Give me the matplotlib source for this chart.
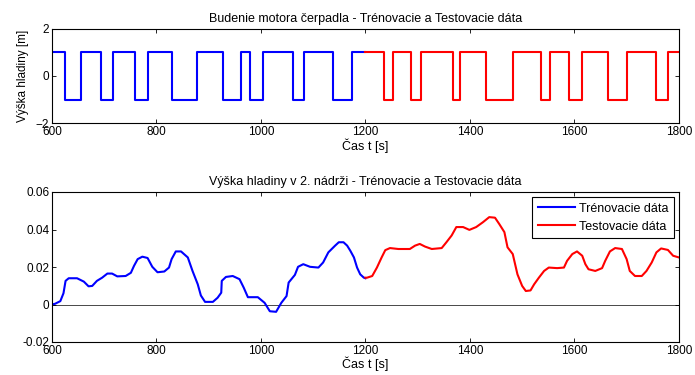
import numpy as np
import matplotlib
matplotlib.use("Agg")
import matplotlib.pyplot as plt

plt.rcParams['font.family'] = ['Liberation Sans', 'DejaVu Sans']
plt.rcParams['font.size'] = 9

# pump excitation (square wave), switch times and levels
u_train_t = [600, 625, 655, 694, 716, 759, 784, 830, 877, 927, 961, 979, 1004, 1062, 1083, 1137, 1175, 1200]
u_train_v = [1, -1, 1, -1, 1, -1, 1, -1, 1, -1, 1, -1, 1, -1, 1, -1, 1, 1]
u_test_t = [1200, 1235, 1252, 1287, 1307, 1368, 1381, 1431, 1483, 1537, 1554, 1589, 1614, 1665, 1700, 1756, 1779, 1800]
u_test_v = [1, -1, 1, -1, 1, -1, 1, -1, 1, -1, 1, -1, 1, -1, 1, -1, 1, 1]

# level in tank 2
h_train_t = [600, 606, 616, 622, 626, 632, 648, 661, 670, 677, 686, 696, 706, 715, 725, 741, 751, 757,
             764, 773, 783, 792, 802, 815, 824, 829, 837, 847, 860, 869, 879, 885, 893, 908, 917, 924,
             925, 933, 946, 959, 967, 975, 994, 1007, 1017, 1029, 1039, 1049, 1053, 1065, 1071, 1081,
             1094, 1110, 1119, 1129, 1142, 1149, 1158, 1165, 1171, 1178, 1184, 1190, 1197, 1200]
h_train_v = [0.0, 0.0004, 0.0018, 0.006, 0.0126, 0.014, 0.014, 0.0122, 0.0097, 0.0099, 0.0126, 0.0143,
             0.0165, 0.0165, 0.015, 0.0152, 0.0169, 0.0206, 0.0242, 0.0255, 0.0248, 0.0201, 0.0172,
             0.0176, 0.0197, 0.0242, 0.0283, 0.0283, 0.0251, 0.0179, 0.0108, 0.0048, 0.0014, 0.0014,
             0.0036, 0.0063, 0.0126, 0.0147, 0.0152, 0.0135, 0.009, 0.0039, 0.0039, 0.0009, -0.0036,
             -0.0039, 0.0009, 0.0045, 0.0117, 0.0158, 0.0201, 0.0215, 0.0201, 0.0197, 0.0224, 0.0278,
             0.0314, 0.0332, 0.0332, 0.0314, 0.0287, 0.0251, 0.0197, 0.0161, 0.0143, 0.014]
h_test_t = [1200, 1203, 1213, 1222, 1231, 1238, 1247, 1263, 1285, 1295, 1304, 1314, 1327, 1346, 1355,
            1365, 1374, 1387, 1399, 1412, 1425, 1437, 1448, 1456, 1466, 1472, 1482, 1491, 1500, 1507,
            1516, 1523, 1532, 1542, 1551, 1567, 1580, 1586, 1596, 1605, 1615, 1621, 1627, 1640, 1653,
            1659, 1668, 1678, 1691, 1700, 1706, 1716, 1729, 1738, 1748, 1757, 1766, 1779, 1789, 1800]
h_test_v = [0.0143, 0.0143, 0.0152, 0.0197, 0.0251, 0.029, 0.0301, 0.0296, 0.0296, 0.0314, 0.0323,
            0.0309, 0.0296, 0.0301, 0.0332, 0.0368, 0.0413, 0.0413, 0.0398, 0.0413, 0.0439, 0.0466,
            0.0463, 0.043, 0.0386, 0.0305, 0.0269, 0.0161, 0.0099, 0.0072, 0.0075, 0.0108, 0.0143,
            0.0179, 0.0197, 0.0194, 0.0197, 0.0233, 0.0269, 0.0283, 0.026, 0.0215, 0.0188, 0.0179,
            0.0194, 0.0233, 0.0283, 0.0301, 0.0296, 0.0242, 0.0179, 0.0152, 0.0152, 0.0179, 0.0224,
            0.0278, 0.0299, 0.0291, 0.026, 0.0251]

x_ticks = [600, 800, 1000, 1200, 1400, 1600, 1800]

fig = plt.figure(figsize=(6.95, 3.75), dpi=100)
ax1 = fig.add_axes([0.0748, 0.671, 0.902, 0.253])
ax2 = fig.add_axes([0.0748, 0.088, 0.902, 0.400])

for ax in (ax1, ax2):
    ax.tick_params(direction='in', top=True, right=True, length=3, width=0.6, labelsize=8.5, pad=2)
    for s in ax.spines.values():
        s.set_linewidth(0.8)
    ax.set_xlim(600, 1800)
    ax.set_xticks(x_ticks)
    ax.set_xlabel('Čas t [s]', labelpad=0)

ax1.plot(u_train_t, u_train_v, drawstyle='steps-post', color='blue', linewidth=1.5)
ax1.plot(u_test_t, u_test_v, drawstyle='steps-post', color='red', linewidth=1.5)
ax1.set_ylim(-2, 2)
ax1.set_yticks([-2, 0, 2])
ax1.set_ylabel('Výška hladiny [m]', labelpad=5, fontsize=8.5)
ax1.set_title('Budenie motora čerpadla - Trénovacie a Testovacie dáta', fontsize=9, pad=5)

ax2.axhline(0, color='black', linewidth=0.5)
ax2.plot(h_train_t, h_train_v, color='blue', linewidth=1.5, label='Trénovacie dáta')
ax2.plot(h_test_t, h_test_v, color='red', linewidth=1.5, label='Testovacie dáta')
ax2.set_ylim(-0.02, 0.06)
ax2.set_yticks([-0.02, 0, 0.02, 0.04, 0.06])
ax2.set_yticklabels(['-0.02', '0', '0.02', '0.04', '0.06'])
ax2.set_title('Výška hladiny v 2. nádrži - Trénovacie a Testovacie dáta', fontsize=9, pad=5)
leg = ax2.legend(loc='upper right', fontsize=9, fancybox=False, edgecolor='black',
                 framealpha=1, borderaxespad=0.4, handlelength=3.0, labelspacing=0.47,
                 borderpad=0.45, handletextpad=0.3)
leg.get_frame().set_linewidth(0.8)

fig.savefig('out.png', dpi=100)
